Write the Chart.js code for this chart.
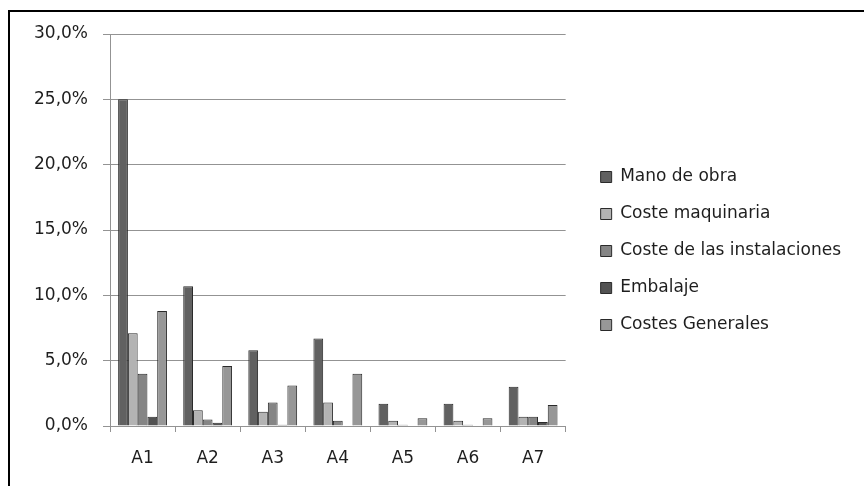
<!DOCTYPE html>
<html>
<head>
<meta charset="utf-8">
<script src="https://cdn.jsdelivr.net/npm/chart.js@4/dist/chart.umd.min.js"></script>
<style>
  html, body { margin: 0; padding: 0; background: #ffffff; }
  #wrap { position: relative; width: 864px; height: 486px; overflow: hidden; background: #ffffff; }
  #frame { position: absolute; left: 8px; top: 10px; width: 900px; height: 520px; border: 2px solid #000; box-sizing: border-box; pointer-events: none; }
  canvas { position: absolute; left: 0; top: 0; }
</style>
</head>
<body>
<div id="wrap">
  <canvas id="c" width="864" height="486"></canvas>
  <div id="frame"></div>
</div>
<script>
// Categories (x axis)
const categories = ['A1', 'A2', 'A3', 'A4', 'A5', 'A6', 'A7'];

// Series values, in percent
const manoDeObra      = [25.0, 10.7, 5.8, 6.7, 1.7, 1.7, 3.0];
const costeMaquinaria = [7.1, 1.2, 1.1, 1.8, 0.4, 0.4, 0.7];
const costeInstal     = [4.0, 0.5, 1.8, 0.4, 0.1, 0.1, 0.7];
const embalaje        = [0.7, 0.25, 0.1, 0.0, 0.0, 0.0, 0.3];
const costesGenerales = [8.8, 4.6, 3.1, 4.0, 0.6, 0.6, 1.6];

// Y axis tick labels
const yTickLabels = ['0,0%', '5,0%', '10,0%', '15,0%', '20,0%', '25,0%', '30,0%'];

const FONT = 'DejaVu Sans';
const GRID = '#939393';
const EDGE = '#2a2a2a';

const series = [
  { label: 'Mano de obra', data: manoDeObra, color: '#616161' },
  { label: 'Coste maquinaria', data: costeMaquinaria, color: '#b3b3b3' },
  { label: 'Coste de las instalaciones', data: costeInstal, color: '#858585' },
  { label: 'Embalaje', data: embalaje, color: '#525252' },
  { label: 'Costes Generales', data: costesGenerales, color: '#979797' }
];

new Chart(document.getElementById('c'), {
  type: 'bar',
  data: {
    labels: categories,
    datasets: series.map(s => ({
      label: s.label,
      data: s.data,
      backgroundColor: s.color,
      borderColor: EDGE,
      borderWidth: 1,
      categoryPercentage: 0.75,
      barPercentage: 1.0
    }))
  },
  options: {
    responsive: false,
    animation: false,
    devicePixelRatio: 1,
    layout: { padding: { left: 10, right: 13, top: 34, bottom: 18 } },
    plugins: {
      tooltip: { enabled: false },
      legend: {
        position: 'right',
        align: 'center',
        maxWidth: 400,
        labels: {
          font: { family: FONT, size: 17 },
          color: '#1e1e1e',
          boxWidth: 11,
          boxHeight: 11,
          padding: 20
        }
      }
    },
    scales: {
      x: {
        type: 'category',
        offset: true,
        grid: { display: true, drawOnChartArea: false, drawTicks: true, offset: true, tickLength: 6, color: GRID },
        border: { display: true, color: GRID },
        ticks: { font: { family: FONT, size: 17 }, color: '#1e1e1e', padding: 16, maxRotation: 0 },
        afterFit: s => { s.height = 42; }
      },
      y: {
        min: 0,
        max: 30,
        ticks: {
          stepSize: 5,
          font: { family: FONT, size: 17 },
          color: '#1e1e1e',
          padding: 15,
          callback: (v, i) => yTickLabels[i]
        },
        grid: { color: GRID, tickLength: 7, drawTicks: true },
        border: { display: true, color: GRID },
        afterFit: s => { s.width = 100; }
      },
      gap: {
        type: 'linear',
        position: 'right',
        display: true,
        grid: { display: false },
        border: { display: false },
        ticks: { display: false },
        afterFit: s => { s.width = 15; }
      }
    }
  }
});
</script>
</body>
</html>
